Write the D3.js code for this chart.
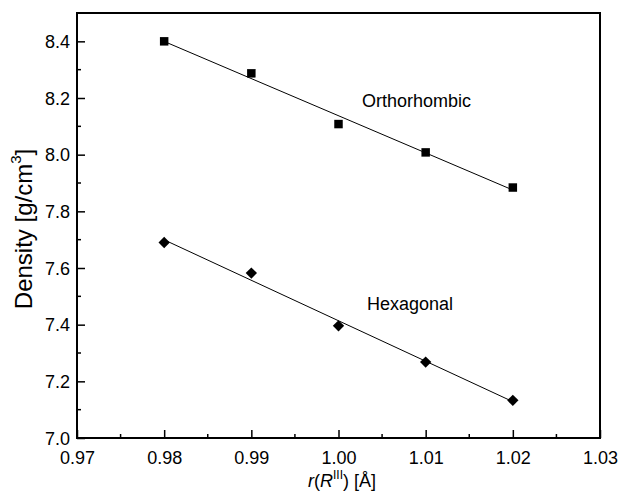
<!DOCTYPE html>
<html><head><meta charset="utf-8">
<script src="https://cdn.jsdelivr.net/npm/d3@7"></script>
<style>body{margin:0;background:#fff}svg{display:block}text{font-family:Arial,"Liberation Sans",sans-serif}</style>
</head><body>
<svg id="c" width="620" height="495"></svg>
<script>
const radii = [0.98, 0.99, 1.00, 1.01, 1.02];
const orthoDensity = [8.40, 8.287, 8.108, 8.008, 7.884];
const hexDensity = [7.690, 7.582, 7.396, 7.268, 7.133];
const xTicks = [0.97, 0.98, 0.99, 1.00, 1.01, 1.02, 1.03];
const yTicks = [7.0, 7.2, 7.4, 7.6, 7.8, 8.0, 8.2, 8.4];

const svg = d3.select("#c");
const m = {l:77, t:13, r:600, b:438};
const x = d3.scaleLinear().domain([0.97, 1.03]).range([m.l, m.r]);
const y = d3.scaleLinear().domain([7.0, 8.5]).range([m.b, m.t]);

function fit(xs, ys){
  const mx = d3.mean(xs), my = d3.mean(ys);
  const s = d3.sum(xs.map((v,i)=>(v-mx)*(ys[i]-my))) / d3.sum(xs.map(v=>(v-mx)*(v-mx)));
  return v => my + s*(v-mx);
}

// minor ticks
const xMinor = d3.range(0.975, 1.03, 0.01);
const yMinor = d3.range(7.1, 8.5, 0.2);
svg.append("g").selectAll("line").data(xMinor).join("line")
  .attr("x1", d=>x(d)).attr("x2", d=>x(d)).attr("y1", m.b).attr("y2", m.b-4)
  .attr("stroke","#000").attr("stroke-width",1.5);
svg.append("g").selectAll("line").data(yMinor).join("line")
  .attr("y1", d=>y(d)).attr("y2", d=>y(d)).attr("x1", m.l).attr("x2", m.l+4)
  .attr("stroke","#000").attr("stroke-width",1.5);

const xAxis = svg.append("g").attr("transform",`translate(0,${m.b})`)
  .call(d3.axisBottom(x).tickValues(xTicks).tickFormat(d3.format(".2f")).tickSizeInner(-8).tickSizeOuter(0).tickPadding(13));
const yAxis = svg.append("g").attr("transform",`translate(${m.l},0)`)
  .call(d3.axisLeft(y).tickValues(yTicks).tickFormat(d3.format(".1f")).tickSizeInner(-8).tickSizeOuter(0).tickPadding(7));
[xAxis,yAxis].forEach(a=>{
  a.select(".domain").remove();
  a.selectAll(".tick line").attr("stroke","#000").attr("stroke-width",1.5);
  a.selectAll(".tick text").attr("font-size",18).attr("fill","#000").attr("font-family","Arial, 'Liberation Sans', sans-serif");
});
yAxis.selectAll(".tick text").attr("dy","0.35em");

// frame
svg.append("rect").attr("x",m.l).attr("y",m.t).attr("width",m.r-m.l).attr("height",m.b-m.t)
  .attr("fill","none").attr("stroke","#000").attr("stroke-width",2);

// fit lines
[[orthoDensity],[hexDensity]].forEach(([ys])=>{
  const f = fit(radii, ys);
  svg.append("line").attr("x1", x(radii[0])).attr("y1", y(f(radii[0])))
    .attr("x2", x(radii[radii.length-1])).attr("y2", y(f(radii[radii.length-1])))
    .attr("stroke","#000").attr("stroke-width",1);
});

// markers
svg.append("g").selectAll("path").data(radii).join("path")
  .attr("transform",(d,i)=>`translate(${x(d)},${y(orthoDensity[i])})`)
  .attr("d", d3.symbol(d3.symbolSquare, 72)).attr("fill","#000");
svg.append("g").selectAll("path").data(radii).join("path")
  .attr("transform",(d,i)=>`translate(${x(d)},${y(hexDensity[i])}) rotate(45)`)
  .attr("d", d3.symbol(d3.symbolSquare, 64)).attr("fill","#000");

// labels
svg.append("text").attr("x",362).attr("y",107).attr("font-size",18).text("Orthorhombic");
svg.append("text").attr("x",367).attr("y",310).attr("font-size",18).text("Hexagonal");

// axis titles
const xt = svg.append("text").attr("x", 342).attr("y", 487).attr("text-anchor","middle").attr("font-size",18);
xt.append("tspan").attr("font-style","italic").text("r");
xt.append("tspan").text("(");
xt.append("tspan").attr("font-style","italic").text("R");
xt.append("tspan").attr("font-size",12).attr("dy",-8).text("III");
xt.append("tspan").attr("dy",8).text(") [Å]");

const yt = svg.append("text").attr("transform",`translate(32,229) rotate(-90)`).attr("text-anchor","middle").attr("font-size",24);
yt.append("tspan").text("Density [g/cm");
yt.append("tspan").attr("font-size",15).attr("dy",-11).text("3");
yt.append("tspan").attr("dy",11).text("]");
</script>
</body></html>
